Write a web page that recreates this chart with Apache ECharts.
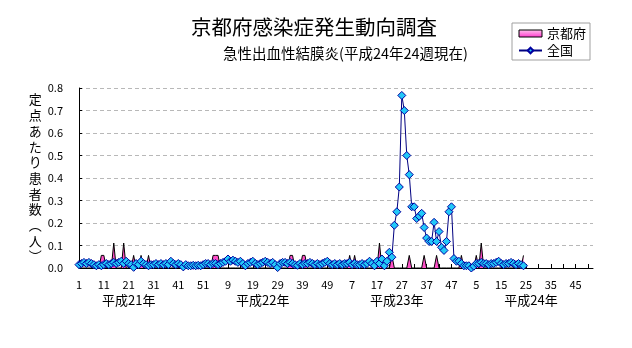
<!DOCTYPE html>
<html>
<head>
<meta charset="utf-8">
<script src="https://cdn.jsdelivr.net/npm/echarts@6/dist/echarts.min.js"></script>
<style>html,body{margin:0;padding:0;background:#fff;}#c{width:632px;height:348px;}</style>
</head>
<body>
<div id="c"></div>
<script>
// ---- text ----
const titleText = '京都府感染症発生動向調査';
const subtitleText = '急性出血性結膜炎(平成24年24週現在)';
const yAxisName = '定点あたり患者数︵人︶';
const seriesNames = ['京都府', '全国'];

// ---- categories ----
const years = ['平成21年', '平成22年', '平成23年', '平成24年'];
const weeksPerYear = 52;

// ---- 全国 (national), per year ----
const nationalH21 = [0.015,0.02,0.025,0.02,0.025,0.02,0.015,0.01,0.015,0.01,
  0.015,0.02,0.015,0.02,0.025,0.02,0.025,0.03,0.02,0.03,
  0.02,0.015,0.003,0.02,0.015,0.03,0.02,0.015,0.01,0.015,
  0.015,0.02,0.015,0.02,0.015,0.02,0.015,0.03,0.02,0.015,
  0.02,0.015,0.005,0.015,0.01,0.01,0.012,0.01,0.012,0.01,
  0.015,0.02];
const nationalH22 = [0.02,0.015,0.02,0.02,0.015,0.02,0.025,0.03,0.04,0.03,
  0.035,0.03,0.025,0.03,0.02,0.01,0.02,0.025,0.03,0.02,
  0.015,0.02,0.025,0.03,0.025,0.02,0.025,0.015,0.002,0.02,
  0.025,0.025,0.02,0.025,0.02,0.015,0.012,0.02,0.015,0.02,
  0.02,0.025,0.02,0.015,0.02,0.015,0.02,0.025,0.03,0.02,
  0.015,0.02];
const nationalH23 = [0.015,0.02,0.015,0.02,0.02,0.025,0.015,0.02,0.015,0.015,
  0.02,0.015,0.02,0.03,0.02,0.01,0.03,0.02,0.04,0.01,
  0.03,0.07,0.048,0.19,0.25,0.36,0.767,0.70,0.50,0.415,
  0.272,0.272,0.22,0.23,0.243,0.18,0.133,0.118,0.118,0.203,
  0.118,0.162,0.092,0.078,0.118,0.25,0.272,0.042,0.03,0.03,
  0.02,0.01];
const nationalH24 = [0.01,0.01,0.0,0.008,0.02,0.02,0.025,0.02,0.02,0.015,
  0.02,0.02,0.025,0.03,0.02,0.015,0.02,0.02,0.025,0.02,
  0.015,0.02,0.015,0.01];

// ---- 京都府 (Kyoto), per year ----
const kyotoH21 = [0,0,0,0,0,0,0,0,0,0.056,
  0.056,0,0,0,0.111,0,0,0,0.111,0,
  0,0,0.056,0,0,0.056,0,0,0.056,0,
  0,0,0,0,0,0,0,0,0,0,
  0,0,0,0,0,0,0,0,0,0,
  0,0];
const kyotoH22 = [0,0,0.056,0.056,0.056,0,0,0,0,0,
  0,0,0,0,0,0,0,0,0,0,
  0,0,0,0,0,0,0,0,0,0,
  0,0,0,0.056,0.056,0,0,0,0.056,0.056,
  0,0,0,0,0,0,0,0,0,0,
  0,0];
const kyotoH23 = [0,0,0,0,0,0.056,0,0.056,0,0,
  0,0,0,0,0,0,0,0.111,0,0,
  0,0,0.056,0,0,0,0,0,0,0.056,
  0,0,0,0,0,0.056,0,0,0,0,
  0.056,0,0,0,0,0,0,0,0,0,
  0.056,0];
const kyotoH24 = [0,0,0,0,0.056,0,0.111,0,0,0,
  0,0,0,0,0,0,0,0,0,0,
  0,0,0,0.056];

// ---- build ----
const categories = [];
years.forEach(y => { for (let w = 1; w <= weeksPerYear; w++) categories.push(y + '|' + w); });
const national = nationalH21.concat(nationalH22, nationalH23, nationalH24);
const kyoto = kyotoH21.concat(kyotoH22, kyotoH23, kyotoH24);
const yearLabelIdx = [20, 74, 128, 182];

const FF = 'Noto Sans CJK JP';
const chart = echarts.init(document.getElementById('c'), null, {renderer: 'canvas'});
chart.setOption({
  animation: false,
  backgroundColor: '#fff',
  textStyle: {fontFamily: FF},
  title: [
    {text: titleText, left: 191, top: 17, padding: 0,
     textStyle: {fontFamily: FF, fontSize: 20.5, fontWeight: 'normal', color: '#000'}},
    {text: subtitleText, left: 223, top: 46, padding: 0,
     textStyle: {fontFamily: FF, fontSize: 14.5, fontWeight: 'normal', color: '#000'}}
  ],
  legend: {
    orient: 'vertical', left: 512, top: 23,
    padding: [4, 4, 3, 6], itemGap: 4, itemWidth: 23, itemHeight: 7,
    borderColor: '#a0a0a0', borderWidth: 1, backgroundColor: '#fff',
    textStyle: {fontFamily: FF, fontSize: 13, color: '#000'},
    data: [
      {name: seriesNames[0], icon: 'rect',
       itemStyle: {color: {type: 'linear', x: 0, y: 0, x2: 0, y2: 1,
         colorStops: [{offset: 0, color: '#ffc8ee'}, {offset: 1, color: '#ff33cc'}]},
         borderColor: '#000', borderWidth: 1}},
      {name: seriesNames[1]}
    ]
  },
  grid: {left: 79, right: 39, top: 88, bottom: 80, containLabel: false},
  xAxis: [
    {type: 'category', data: categories, boundaryGap: false,
     axisLine: {show: true, lineStyle: {color: '#000', width: 1}},
     axisTick: {show: true, inside: true, length: 4, interval: 4, lineStyle: {color: '#000'}},
     axisLabel: {interval: 9, margin: 11, fontSize: 11, color: '#000', fontFamily: FF,
       formatter: v => v.split('|')[1]},
     splitLine: {show: false}},
    {type: 'category', data: categories, boundaryGap: false, position: 'bottom',
     axisLine: {show: false}, axisTick: {show: false}, splitLine: {show: false},
     axisLabel: {interval: (idx) => yearLabelIdx.indexOf(idx) >= 0, margin: 26, fontSize: 13,
       color: '#000', fontFamily: FF, formatter: v => v.split('|')[0]}}
  ],
  yAxis: {
    type: 'value', min: 0, max: 0.8, interval: 0.1,
    axisLine: {show: true, lineStyle: {color: '#000', width: 1}},
    axisTick: {show: true, inside: true, length: 3, lineStyle: {color: '#000'}},
    axisLabel: {margin: 16, fontSize: 11, color: '#000', fontFamily: FF, formatter: v => v.toFixed(1)},
    splitLine: {show: true, lineStyle: {color: '#b8b8b8', width: 1, type: [4, 3]}},
    name: yAxisName.split('').join('\n'), nameLocation: 'middle', nameGap: 42, nameRotate: 0,
    nameTextStyle: {fontFamily: FF, fontSize: 13, lineHeight: 15.7, align: 'center', verticalAlign: 'middle', color: '#000'}
  },
  series: [
    {name: seriesNames[0], type: 'line', data: kyoto, xAxisIndex: 0, symbol: 'none',
     lineStyle: {color: '#000', width: 1}, areaStyle: {color: '#ff4fc8', opacity: 1},
     itemStyle: {color: '#ff4fc8'}, z: 2},
    {name: seriesNames[1], type: 'line', data: national, xAxisIndex: 0,
     symbol: 'diamond', symbolSize: 8, showAllSymbol: true,
     lineStyle: {color: '#000080', width: 1},
     itemStyle: {color: '#22c8f8', borderColor: '#0000a0', borderWidth: 1}, z: 3}
  ]
});
</script>
</body>
</html>
